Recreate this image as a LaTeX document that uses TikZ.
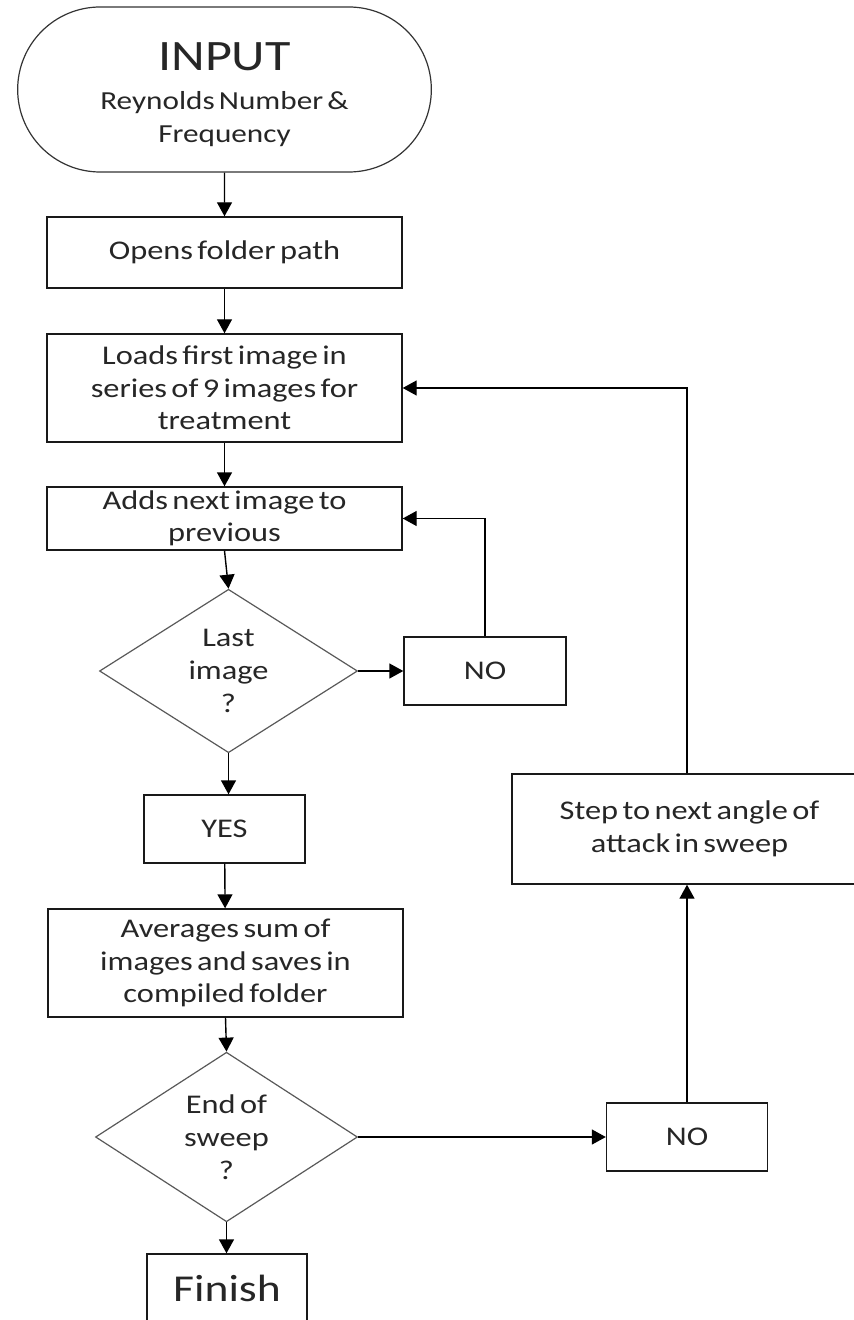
\documentclass[tikz,border=0pt]{standalone}
\usepackage{fontspec}
\setmainfont{Carlito}[FakeStretch=1.2, WordSpace=0.6]
\usetikzlibrary{shapes.geometric,shapes.misc,arrows.meta}

\tikzset{
    process/.style={draw=black!90, line width=0.7pt, rectangle, inner sep=1pt,
        align=center, text=black!85, font=\fontsize{13.5}{16.25}\selectfont},
    decision/.style={draw=black!65, line width=0.6pt, diamond, inner sep=0pt,
        align=center, text=black!85, font=\fontsize{13.5}{16.5}\selectfont,
        minimum width=129pt, minimum height=77pt},
    terminal/.style={draw=black!80, line width=0.6pt, rounded rectangle,
        align=center, text=black!85, font=\fontsize{13}{16.5}\selectfont}
}

\begin{document}
\begin{tikzpicture}[x=0.5pt, y=-0.5pt, >={Triangle[length=7pt,width=7.5pt]}, line width=0.7pt]
    \useasboundingbox (0,0) rectangle (854,1320);

    % start and the main column
    \node[terminal, minimum width=213.5pt, minimum height=82.5pt, text height=55.5pt] (input) at (224.5,89.5)
        {{\fontsize{21.7}{24}\selectfont INPUT}\\[3pt]Reynolds Number \&\\Frequency};
    \node[process, minimum width=177.5pt, minimum height=35.5pt] (opens) at (224.5,252.5) {Opens folder path};
    \node[process, minimum width=177.5pt, minimum height=54pt] (loads) at (224.5,388)
        {Loads first image in\\series of 9 images for\\treatment};
    \node[process, minimum width=177.5pt, minimum height=31.5pt] (adds) at (224.5,518.5)
        {Adds next image to\\previous};
    \node[decision] (last) at (228.5,671) {Last\\image\\?};
    \node[process, minimum width=80.5pt, minimum height=34pt] (yes) at (224.5,829) {YES};
    \node[process, minimum width=177.5pt, minimum height=54pt] (averages) at (225.5,963)
        {Averages sum of\\images and saves in\\compiled folder};
    \node[decision, minimum width=131pt, minimum height=76pt] (sweep) at (226.5,1137) {End of\\sweep\\?};
    \node[process, minimum width=80pt, minimum height=34pt, font=\fontsize{19}{22}\selectfont] (finish) at (227,1288) {Finish};

    % the side branches
    \node[process, minimum width=81pt, minimum height=34pt] (no1) at (485,671) {NO};
    \node[process, minimum width=80.5pt, minimum height=34pt] (no2) at (687,1137) {NO};
    \node[process, minimum width=177.5pt, minimum height=55pt] (stepbox) at (689.5,829)
        {Step to next angle of\\attack in sweep};

    % draw the arrows
    \draw[->] (input) -- (opens);
    \draw[->] (opens) -- (loads);
    \draw[->] (loads) -- (adds);
    \draw[->] (adds.south) -- (last.north);
    \draw[->] (last.east) -- (no1.west);
    \draw[->] (no1.north) |- (adds.east);
    \draw[->] (last.south) -- (last.south |- yes.north);
    \draw[->] (yes) -- (averages);
    \draw[->] (averages.south) -- (sweep.north);
    \draw[->] (sweep.east) -- (no2.west);
    \draw[->] (no2.north) -- (no2.north |- stepbox.south);
    \draw[->] (no2.north |- stepbox.north) |- (loads.east);
    \draw[->] (sweep.south) -- (sweep.south |- finish.north);
\end{tikzpicture}
\end{document}
